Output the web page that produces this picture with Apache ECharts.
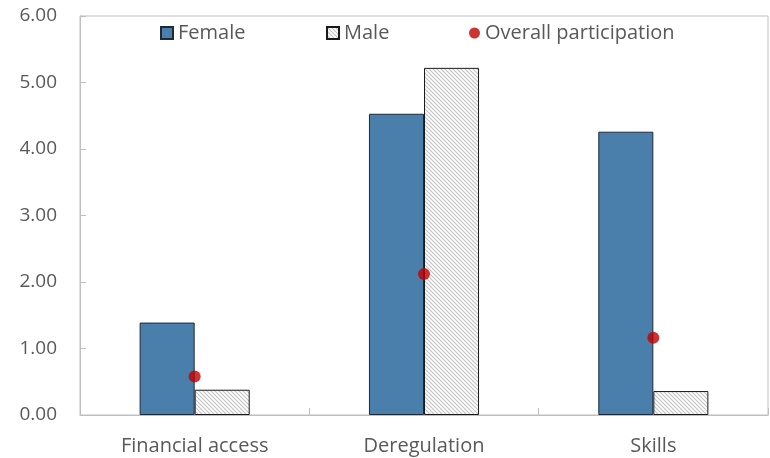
<!DOCTYPE html>
<html>
<head>
<meta charset="utf-8">
<script src="https://cdn.jsdelivr.net/npm/echarts@6/dist/echarts.min.js"></script>
<style>
  html, body { margin: 0; padding: 0; background: #fff; }
  #chart { width: 770px; height: 458px; }
</style>
</head>
<body>
<div id="chart"></div>
<script>
// Participation effects by reform area
const categories = ['Financial access', 'Deregulation', 'Skills'];
const femaleValues = [1.39, 4.53, 4.26];
const maleValues = [0.38, 5.22, 0.36];
const overallValues = [0.58, 2.12, 1.16];
const yTicks = [0, 1, 2, 3, 4, 5, 6];

// Fine diagonal hatch tile for the Male bars
function hatchPattern() {
  const s = 4;
  const c = document.createElement('canvas');
  c.width = s; c.height = s;
  const g = c.getContext('2d');
  g.fillStyle = '#ffffff';
  g.fillRect(0, 0, s, s);
  g.strokeStyle = '#c4c4c4';
  g.lineWidth = 1.2;
  g.beginPath();
  g.moveTo(-1, -1); g.lineTo(s + 1, s + 1);
  g.moveTo(-1, s - 1); g.lineTo(1, s + 1);
  g.moveTo(s - 1, -1); g.lineTo(s + 1, 1);
  g.stroke();
  return c;
}

const textColor = '#595959';
const fontFamily = '"Open Sans", "Noto Sans", sans-serif';
const legendText = { color: textColor, fontSize: 20, fontFamily: fontFamily };

const chart = echarts.init(document.getElementById('chart'), null, { renderer: 'canvas' });
chart.setOption({
  animation: false,
  grid: {
    left: 80, right: 2, top: 16, bottom: 43,
    show: true, borderColor: '#bfbfbf', borderWidth: 1, backgroundColor: 'transparent'
  },
  legend: [
    { data: [{ name: 'Female', icon: 'rect' }], left: 155, top: 18, itemWidth: 12, itemHeight: 12, textStyle: legendText },
    { data: [{ name: 'Male', icon: 'rect' }], left: 321, top: 18, itemWidth: 12, itemHeight: 12, textStyle: legendText },
    { data: [{ name: 'Overall participation', icon: 'circle' }], left: 464, top: 18, itemWidth: 11, itemHeight: 11, textStyle: legendText }
  ],
  xAxis: {
    type: 'category',
    data: categories,
    axisLine: { lineStyle: { color: '#bfbfbf', width: 1 } },
    axisTick: { show: true, inside: true, length: 7, lineStyle: { color: '#bfbfbf' } },
    axisLabel: { color: textColor, fontSize: 20, fontFamily: fontFamily, margin: 21 }
  },
  yAxis: {
    type: 'value',
    min: yTicks[0],
    max: yTicks[yTicks.length - 1],
    interval: 1,
    splitLine: { show: false },
    axisLine: { show: true, lineStyle: { color: '#bfbfbf', width: 1 } },
    axisTick: { show: true, inside: true, length: 6, lineStyle: { color: '#bfbfbf' } },
    axisLabel: { color: textColor, fontSize: 19, fontFamily: fontFamily, margin: 23,
      formatter: v => v.toFixed(2) }
  },
  series: [
    {
      name: 'Female', type: 'bar', data: femaleValues,
      barGap: '0%', barCategoryGap: '52%',
      itemStyle: { color: '#4a7eab', borderColor: '#1e2a38', borderWidth: 1 }
    },
    {
      name: 'Male', type: 'bar', data: maleValues,
      itemStyle: { color: { image: hatchPattern(), repeat: 'repeat' }, borderColor: '#1a1a1a', borderWidth: 1 }
    },
    {
      name: 'Overall participation', type: 'scatter', data: overallValues,
      symbol: 'circle', symbolSize: 12, z: 5,
      itemStyle: { color: '#c00000' }
    }
  ]
});
</script>
</body>
</html>
